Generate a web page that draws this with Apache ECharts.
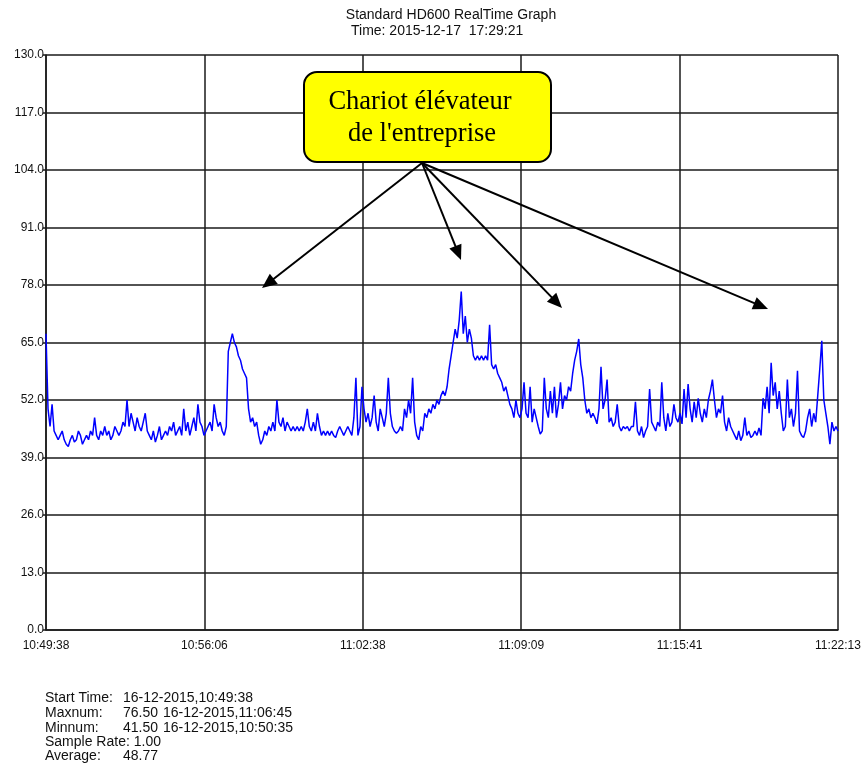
<!DOCTYPE html>
<html><head><meta charset="utf-8">
<script src="https://cdn.jsdelivr.net/npm/echarts@6/dist/echarts.min.js"></script>
<style>html,body{margin:0;padding:0;background:#fff}#c{width:868px;height:776px}</style>
</head><body><div id="c"></div>
<script>
// ---- data ----
const titleLine1 = 'Standard HD600 RealTime Graph';
const titleLine2 = 'Time: 2015-12-17  17:29:21';
const sampleStep = 5; // seconds between the values
const xTickLabels = ['10:49:38','10:56:06','11:02:38','11:09:09','11:15:41','11:22:13'];
const xTickStep = 391; // seconds between x ticks (total span 1955 s)
const yMax = 130, yStep = 13;
const values = [
67,50,46,51,45,44,43,44,45,43,
42,41.5,43,44,42.5,43,45,44,42,43,
44,43,45,44,48,44,43,45,44,46,
44,45,43,44,46,45,44,45,47,46,
52,46,49,47,45,48,46,45,47,49,
45,44,43,45,42.5,44,46,43,44,45,
44,46,45,47,44,45,46,44,50,45,
47,44,46,48,45,51,47,46,44,45,
46,47,45,51,48,46,47,45,44,46,
63,65,67,65,64,62,61,59,58,57,
50,47,48,46,47,44,42,43,45,44,
46,45,47,45,52,47,46,48,45,47,
46,45,46,45,46,45,46,45,47,50,
46,45,47,45,49,46,44,45,44,45,
44,45,44,43.5,45,46,45,44,45,46,
45,44,48,57,44,46,55,50,47,49,
46,48,53,47,45,50,48,46,49,57,
49,46,45,44.5,45,46,45,50,48,52,
49,57,47,44,43,46,45,49,48,50,
49,51,50,52,51,53,54,53,55,59,
62,65,68,66,70,76.5,67,71,65,68,
66,62,61,62,61,62,61,62,61,69,
60,59,60,58,57,56,54,55,53,51,
50,48,52,49,48,50,56,49,48,55,
47,50,48,46,44.3,45,57,50,48,54,
49,55,48,51,56,50,53,52,55,54,
58,61,63,65.8,60,57,52,49,50,48,
49,48,46.6,50,59.5,50,52,56.6,47,48,
46,47,51,46,45,46,45.5,46,45,46,
46,51.6,45,44,46,43.5,45,46,54.5,47,
46,45,47,46,56,48,45,49,46,47,
51,48,47,49,46.6,54.5,48,55.6,50,47,
51.6,48,52.4,49,47,50,48,52,54,56.6,
52,48,50,49,53,47,45,48,46,45,
44,43,45,42.8,44,48,44,45,43.5,44,
45,44,45.7,44,52.4,50,55,49,60.4,53,
56,50,54,49,45,46,56.6,48,50,46,
49,58.6,45,44,43.5,45,48,50,46,49,
47,53,59,65.4,52,49,46,42,47,45,
46,45
];
const statsLabels = ['Start Time:','Maxnum:','Minnum:','Sample Rate: 1.00','Average:'];
const statsValues = ['16-12-2015,10:49:38','76.50','41.50','','48.77'];
const statsDates  = ['','16-12-2015,11:06:45','16-12-2015,10:50:35','',''];
const noteLines = ['Chariot élévateur', "de l'entreprise"];

// ---- chart ----
const chart = echarts.init(document.getElementById('c'), null, {renderer:'canvas'});
const seriesData = values.map((v,i)=>[i*sampleStep, v]);
const gridColor = '#1a1a1a';
const sans = '"Liberation Sans", Arial, sans-serif';
const serifFont = '26.5px "Liberation Serif", "Times New Roman", serif';

function arrow(x1,y1,x2,y2){
  const dx=x2-x1, dy=y2-y1, L=Math.hypot(dx,dy), ux=dx/L, uy=dy/L;
  const hl=15, hw=6.5;
  const bx=x2-ux*hl, by=y2-uy*hl;
  return [
    {type:'line', z:100, shape:{x1:x1,y1:y1,x2:bx+ux*2,y2:by+uy*2}, style:{stroke:'#000',lineWidth:2}},
    {type:'polygon', z:100, shape:{points:[[x2,y2],[bx-uy*hw,by+ux*hw],[bx+uy*hw,by-ux*hw]]}, style:{fill:'#000'}}
  ];
}

const graphics = [
  {type:'text', z:100, style:{text:titleLine1, x:451, y:15, textAlign:'center', textVerticalAlign:'middle', font:'14px '+sans, fill:'#111'}},
  {type:'text', z:100, style:{text:titleLine2, x:351, y:31, textAlign:'left', textVerticalAlign:'middle', font:'14px '+sans, fill:'#111'}},
  {type:'rect', z:100, shape:{x:304,y:72,width:247,height:90,r:13}, style:{fill:'#ffff00', stroke:'#000', lineWidth:2}},
  {type:'text', z:101, style:{text:noteLines[0], x:420, y:102, textAlign:'center', textVerticalAlign:'middle', font:serifFont, fill:'#000'}},
  {type:'text', z:101, style:{text:noteLines[1], x:422, y:134, textAlign:'center', textVerticalAlign:'middle', font:serifFont, fill:'#000'}}
];
const src=[422,163];
[[262,288],[461,260],[562,308],[768,309]].forEach(t=>{ graphics.push(...arrow(src[0],src[1],t[0],t[1])); });
const statY=[698,713,728,742,756];
statsLabels.forEach((s,i)=>{
  graphics.push({type:'text', z:100, style:{text:s, x:45, y:statY[i], textVerticalAlign:'middle', font:'14px '+sans, fill:'#111'}});
  if(statsValues[i]) graphics.push({type:'text', z:100, style:{text:statsValues[i], x:123, y:statY[i], textVerticalAlign:'middle', font:'14px '+sans, fill:'#111'}});
  if(statsDates[i]) graphics.push({type:'text', z:100, style:{text:statsDates[i], x:163, y:statY[i], textVerticalAlign:'middle', font:'14px '+sans, fill:'#111'}});
});

chart.setOption({
  animation:false,
  backgroundColor:'#fff',
  grid:{left:46, right:30, top:55, bottom:146, containLabel:false},
  xAxis:{
    type:'value', min:0, max:xTickStep*(xTickLabels.length-1), interval:xTickStep,
    axisLine:{show:true, lineStyle:{color:gridColor, width:1.5}},
    axisTick:{show:false},
    splitLine:{show:true, lineStyle:{color:gridColor, width:1.5}},
    axisLabel:{margin:10, fontFamily:sans, fontSize:12, color:'#111',
      formatter:v=>xTickLabels[Math.round(v/xTickStep)]||''}
  },
  yAxis:{
    type:'value', min:0, max:yMax, interval:yStep,
    axisLine:{show:true, lineStyle:{color:gridColor, width:1.5}},
    axisTick:{show:true, length:3, lineStyle:{color:gridColor, width:1.5}},
    splitLine:{show:true, lineStyle:{color:gridColor, width:1.5}},
    axisLabel:{margin:2, fontFamily:sans, fontSize:12, color:'#111', formatter:v=>v.toFixed(1)}
  },
  series:[{
    type:'line', data:seriesData, showSymbol:false, symbol:'none',
    lineStyle:{color:'#0000ff', width:1.5}, z:5
  }],
  graphic:graphics
});
</script>
</body></html>
